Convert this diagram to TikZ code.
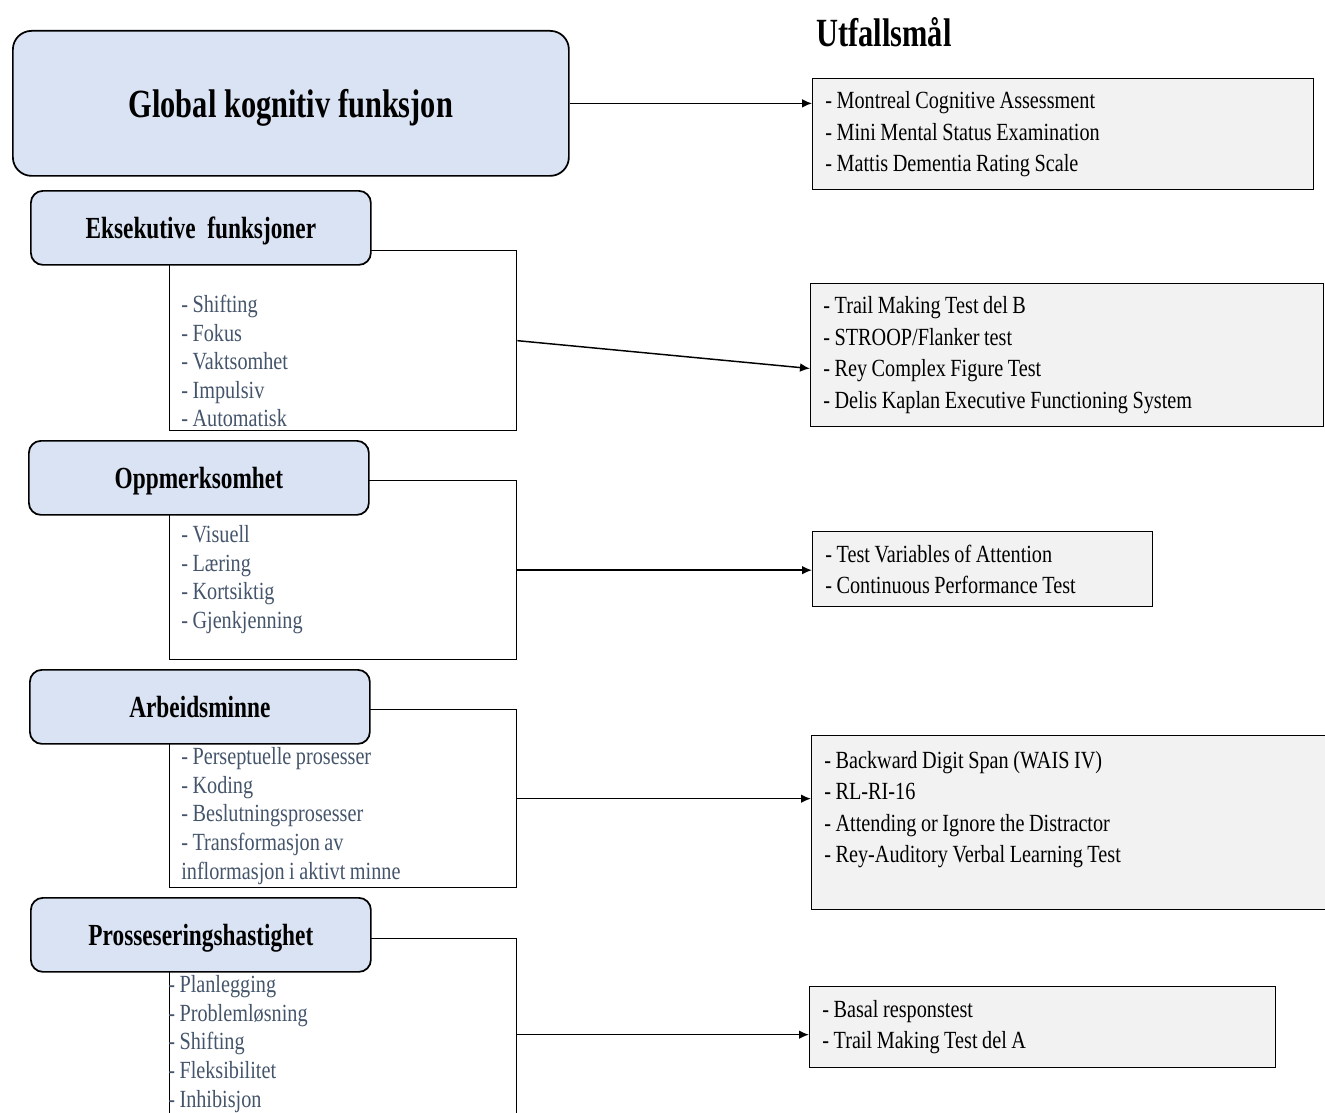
\documentclass[tikz,border=0pt]{standalone}
\usepackage{fontspec}
\setmainfont{Liberation Serif}[FakeStretch=0.82, WordSpace=0.9]
\newfontfamily\headfont{Liberation Serif}[FakeStretch=0.76]
\usetikzlibrary{arrows.meta}
\definecolor{headblue}{HTML}{DAE3F3}
\definecolor{resgrey}{HTML}{F2F2F2}
\definecolor{listgrey}{HTML}{44546A}

\begin{document}
\begin{tikzpicture}[
		x=0.75pt, y=-0.75pt,
		>={Latex[length=7.5pt,width=6.5pt]},
		glob/.style={draw=black, line width=1.3pt, fill=headblue, rounded corners=14pt,
			anchor=north west, minimum width=417pt, minimum height=108.75pt, text depth=0pt,
			font=\headfont\bfseries\fontsize{30}{36}\selectfont},
		head/.style={draw=black, line width=1.3pt, fill=headblue, rounded corners=9pt,
			anchor=north west, minimum width=255pt, minimum height=55.5pt, text depth=0pt,
			font=\headfont\bfseries\fontsize{23}{27}\selectfont},
		sub/.style={draw=black, line width=1pt, anchor=north west, minimum width=260.25pt},
		list/.style={anchor=north west, inner sep=0pt, align=left, text=listgrey,
			font=\fontsize{18.5}{21.4}\selectfont},
		res/.style={draw=black, line width=1pt, fill=resgrey, anchor=north west,
			align=flush left, inner xsep=9.5pt, font=\fontsize{18.5}{23.6}\selectfont},
		link/.style={->, line width=1.1pt}
	]
		\useasboundingbox (0,0) rectangle (1325,1113);

		% venstre side
		\node[glob] (glob) at (12,30) {Global kognitiv funksjon};

		\node[sub, minimum height=135pt] (sub1) at (169,250) {};
		\node[head] (eks) at (30,190) {Eksekutive\ \ funksjoner};
		\node[list] (list1) at (181,295) {- Shifting\\- Fokus\\- Vaktsomhet\\- Impulsiv\\- Automatisk};

		\node[sub, minimum height=134.25pt] (sub2) at (169,480) {};
		\node[head] (opp) at (28,440) {Oppmerksomhet};
		\node[list] (list2) at (181,525.5) {- Visuell\\- Læring\\- Kortsiktig\\- Gjenkjenning};

		\node[sub, minimum height=133.5pt] (sub3) at (169,709) {};
		\node[head] (arb) at (29,669) {Arbeidsminne};
		\node[list] (list3) at (181,747.5) {- Perseptuelle prosesser\\- Koding\\- Beslutningsprosesser\\- Transformasjon av\\inflormasjon i aktivt minne};

		\node[sub, minimum height=144pt] (sub4) at (169,938) {};
		\node[head] (pro) at (30,897) {Prosseseringshastighet};
		\node[list] (list4) at (168,975.5) {- Planlegging\\- Problemløsning\\- Shifting\\- Fleksibilitet\\- Inhibisjon};

		% utfallsmål
		\node[font=\headfont\bfseries\fontsize{30}{36}\selectfont] (utfall) at (884,32) {Utfallsmål};
		\node[res, text width=356.75pt, minimum height=83.25pt] (res1) at (812,78)
			{- Montreal Cognitive Assessment\\- Mini Mental Status Examination\\- Mattis Dementia Rating Scale};
		\node[res, text width=365.75pt, minimum height=107.25pt] (res2) at (810,283)
			{- Trail Making Test del B\\- STROOP/Flanker test\\- Rey Complex Figure Test\\- Delis Kaplan Executive Functioning System};
		\node[res, text width=236pt, minimum height=56.25pt] (res3) at (812,531)
			{- Test Variables of Attention\\- Continuous Performance Test};
		\node[res, text width=370.25pt, minimum height=130.5pt] (res4) at (811,735)
			{- Backward Digit Span (WAIS IV)\\- RL-RI-16\\- Attending or Ignore the Distractor\\- Rey-Auditory Verbal Learning Test\\~};
		\node[res, text width=330.5pt, minimum height=60.75pt] (res5) at (809,986)
			{- Basal responstest\\- Trail Making Test del A};

		\draw[link] (glob.east) -- (glob.east -| res1.west);
		\draw[link] (sub1.east) -- ([yshift=-10pt]res2.west);
		\draw[link] (sub2.east) -- (sub2.east -| res3.west);
		\draw[link] (sub3.east) -- (sub3.east -| res4.west);
		\draw[link] (sub4.east) -- (sub4.east -| res5.west);
	\end{tikzpicture}
\end{document}
